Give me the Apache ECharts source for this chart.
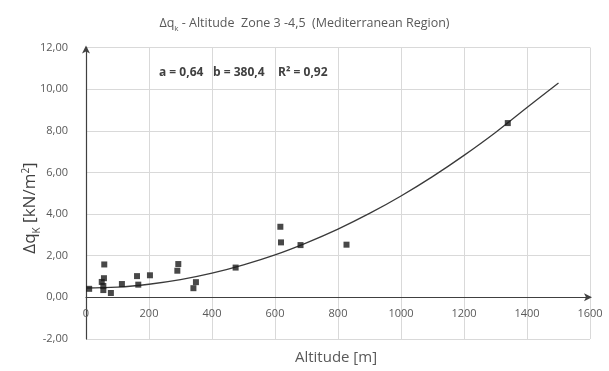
<!DOCTYPE html>
<html>
<head>
<meta charset="utf-8">
<script src="https://cdn.jsdelivr.net/npm/echarts@6/dist/echarts.min.js"></script>
<style>
  html, body { margin: 0; padding: 0; background: #fff; }
  #chart { width: 609px; height: 371px; }
</style>
</head>
<body>
<div id="chart"></div>
<script>
// Measured snow-load increments versus altitude [m, kN/m²]
const altitudes = [10, 50, 55, 55, 57, 58, 79, 114, 162, 166, 203, 290, 293, 341, 349, 475, 617, 619, 681, 827, 1339];
const deltaQ    = [0.41, 0.74, 0.55, 0.35, 0.92, 1.58, 0.21, 0.64, 1.02, 0.61, 1.06, 1.28, 1.60, 0.44, 0.73, 1.43, 3.39, 2.64, 2.51, 2.53, 8.37];

// Fitted trend curve, sampled every 100 m
const curveAltitudes = [0, 100, 200, 300, 400, 500, 600, 700, 800, 900, 1000, 1100, 1200, 1300, 1400, 1500];
const curveValues    = [0.45, 0.49, 0.63, 0.85, 1.16, 1.56, 2.04, 2.62, 3.28, 4.03, 4.87, 5.80, 6.82, 7.92, 9.12, 10.30];

// Axis ticks
const xTicks = [0, 200, 400, 600, 800, 1000, 1200, 1400, 1600];
const yTicks = [-2, 0, 2, 4, 6, 8, 10, 12];

// Fit parameters shown in the plot
const fitLabels = ['a = 0,64', 'b = 380,4', 'R² = 0,92'];

const FONT = '"Open Sans", "Noto Sans", sans-serif';
const TEXT = '#595959';

const GRID = { left: 86, right: 19, top: 47.5, bottom: 32 };
const plotHeight = 371 - GRID.top - GRID.bottom;
const yMin = yTicks[0], yMax = yTicks[yTicks.length - 1];
// lift the x axis (line + labels) from the bottom edge up to the zero line
const xAxisOffset = -plotHeight * (0 - yMin) / (yMax - yMin);

const chart = echarts.init(document.getElementById('chart'), null, { renderer: 'canvas' });

const option = {
  animation: false,
  backgroundColor: '#ffffff',
  title: {
    text: '{a|Δq}{s|k}{a| - Altitude  Zone 3 -4,5  (Mediterranean Region)}',
    left: 'center',
    top: 7,
    textStyle: {
      fontWeight: 'normal',
      rich: {
        a: { fontFamily: FONT, fontSize: 12.5, fontWeight: 'normal', color: TEXT, lineHeight: 18, verticalAlign: 'bottom' },
        s: { fontFamily: FONT, fontSize: 8, fontWeight: 'normal', color: TEXT, lineHeight: 18, verticalAlign: 'bottom', padding: [0, 0, -3, 0] }
      }
    }
  },
  grid: Object.assign({ containLabel: false }, GRID),
  xAxis: {
    type: 'value',
    min: xTicks[0],
    max: xTicks[xTicks.length - 1],
    interval: 200,
    offset: xAxisOffset,
    axisLine: {
      onZero: false,
      lineStyle: { color: '#404040', width: 1.2 },
      symbol: ['none', 'arrow'],
      symbolSize: [6, 8],
      symbolOffset: [0, 2]
    },
    axisTick: { show: false },
    axisLabel: { color: TEXT, fontFamily: FONT, fontSize: 11, margin: 11, formatter: v => String(v) },
    splitLine: { show: true, lineStyle: { color: '#d9d9d9', width: 1 } }
  },
  yAxis: {
    type: 'value',
    min: yMin,
    max: yMax,
    interval: 2,
    axisLine: {
      show: true,
      onZero: false,
      lineStyle: { color: '#404040', width: 1.2 },
      symbol: ['none', 'arrow'],
      symbolSize: [6, 8],
      symbolOffset: [0, 2]
    },
    axisTick: { show: false },
    axisLabel: {
      color: TEXT, fontFamily: FONT, fontSize: 11, margin: 18,
      formatter: v => v.toFixed(2).replace('.', ',')
    },
    splitLine: { show: true, lineStyle: { color: '#d9d9d9', width: 1 } }
  },
  graphic: [
    {
      type: 'text',
      x: 28, y: 208,
      rotation: Math.PI / 2,
      style: {
        text: '{a|Δq}{s|K}{a| [kN/m}{p|2}{a|]}',
        align: 'center',
        verticalAlign: 'middle',
        rich: {
          a: { fontFamily: FONT, fontSize: 17, fill: '#404040', lineHeight: 22, verticalAlign: 'bottom' },
          s: { fontFamily: FONT, fontSize: 10, fill: '#404040', lineHeight: 22, verticalAlign: 'bottom', padding: [0, 0, -3, 0] },
          p: { fontFamily: FONT, fontSize: 10, fill: '#404040', lineHeight: 22, verticalAlign: 'bottom', padding: [0, 0, 8, 0] }
        }
      }
    },
    {
      type: 'text',
      x: 336, y: 358,
      style: {
        text: 'Altitude [m]',
        align: 'center',
        verticalAlign: 'middle',
        fontFamily: FONT, fontSize: 15, fill: TEXT
      }
    },
    {
      type: 'text', x: 159, y: 73,
      style: { text: fitLabels[0], verticalAlign: 'middle', fontFamily: FONT, fontSize: 12, fontWeight: 'bold', fill: '#404040' }
    },
    {
      type: 'text', x: 213, y: 73,
      style: { text: fitLabels[1], verticalAlign: 'middle', fontFamily: FONT, fontSize: 12, fontWeight: 'bold', fill: '#404040' }
    },
    {
      type: 'text', x: 278, y: 73,
      style: { text: fitLabels[2], verticalAlign: 'middle', fontFamily: FONT, fontSize: 12, fontWeight: 'bold', fill: '#404040' }
    }
  ],
  series: [
    {
      name: 'trend',
      type: 'line',
      data: curveAltitudes.map((h, i) => [h, curveValues[i]]),
      smooth: 0.4,
      showSymbol: false,
      lineStyle: { color: '#3a3a3a', width: 1.3 },
      z: 2
    },
    {
      name: 'measured',
      type: 'scatter',
      data: altitudes.map((h, i) => [h, deltaQ[i]]),
      symbol: 'rect',
      symbolSize: 6,
      itemStyle: { color: '#1a1a1a' },
      z: 3
    }
  ]
};

chart.setOption(option);
</script>
</body>
</html>
